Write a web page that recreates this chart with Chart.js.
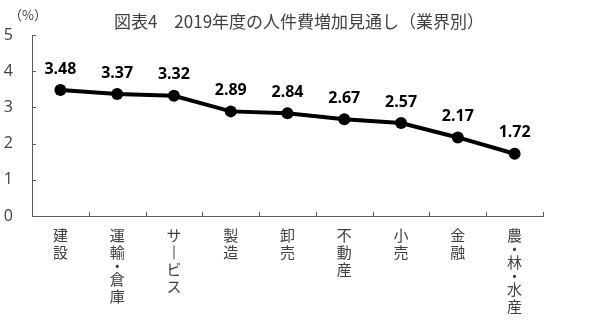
<!DOCTYPE html>
<html lang="ja">
<head>
<meta charset="utf-8">
<title>図表4 2019年度の人件費増加見通し（業界別）</title>
<script src="https://cdn.jsdelivr.net/npm/chart.js@4.4.1/dist/chart.umd.min.js"></script>
<style>
    html, body { margin: 0; padding: 0; background: #fff; }
    #wrap { width: 600px; height: 324px; position: relative; }
</style>
</head>
<body>
<div id="wrap"><canvas id="chart"></canvas></div>
<script>
// data
const categories = ['建設', '運輸・倉庫', 'サ｜ビス', '製造', '卸売', '不動産', '小売', '金融', '農・林・水産'];
const values = [3.48, 3.37, 3.32, 2.89, 2.84, 2.67, 2.57, 2.17, 1.72];
const yTicks = [0, 1, 2, 3, 4, 5];

const TITLE = '図表4　2019年度の人件費増加見通し（業界別）';
const TEXT = '#404040';
const AXIS = '#595959';
const CJK = '"Noto Sans CJK JP", "Noto Sans", sans-serif';

/**
 * Extra drawing: title, inner tick marks, vertical category labels,
 * value labels above the points and the (%) unit.
 */
const decorations = {
    id: 'decorations',
    afterDraw(chart) {
        const { ctx, chartArea } = chart;
        const x = chart.scales.x;
        const y = chart.scales.y;
        ctx.save();

        // title, centred on the whole canvas
        ctx.fillStyle = TEXT;
        ctx.font = '17px ' + CJK;
        ctx.textAlign = 'center';
        ctx.textBaseline = 'middle';
        ctx.fillText(TITLE, 299, 22);

        // tick marks pointing into the plot
        ctx.strokeStyle = AXIS;
        ctx.lineWidth = 1;
        ctx.beginPath();
        yTicks.forEach(v => {
            const py = Math.round(y.getPixelForValue(v)) + 0.5;
            ctx.moveTo(chartArea.left, py);
            ctx.lineTo(chartArea.left + 4, py);
        });
        for (let i = 0; i <= categories.length; i++) {
            const px = Math.round(x.getPixelForValue(i - 0.5)) + 0.5;
            ctx.moveTo(px, chartArea.bottom);
            ctx.lineTo(px, chartArea.bottom - 4);
        }
        ctx.stroke();

        // vertical (tategaki) category labels
        ctx.font = '15px ' + CJK;
        categories.forEach((label, i) => {
            const px = x.getPixelForValue(i);
            let py = chartArea.bottom + 19.5;
            const chars = Array.from(label);
            chars.forEach((ch, k) => {
                if (ch === '｜') {
                    // vertical long vowel mark
                    ctx.fillRect(Math.round(px) - 0.5, py - 7, 1, 14);
                } else {
                    ctx.fillText(ch, px, py);
                }
                const next = chars[k + 1];
                py += (ch === '・' || next === '・') ? 13.5 : 17;
            });
        });

        // value labels
        ctx.fillStyle = '#000';
        ctx.font = 'bold 16px "Noto Sans", "Open Sans", sans-serif';
        const meta = chart.getDatasetMeta(0);
        meta.data.forEach((pt, i) => {
            ctx.fillText(values[i].toFixed(2), pt.x, pt.y - 21);
        });

        // unit
        ctx.fillStyle = TEXT;
        ctx.font = '13px ' + CJK;
        ctx.textAlign = 'left';
        ctx.fillText('（%）', 9, 15);

        ctx.restore();
    }
};

new Chart(document.getElementById('chart'), {
    type: 'line',
    data: {
        labels: categories,
        datasets: [{
            data: values,
            borderColor: '#000',
            backgroundColor: '#000',
            borderWidth: 4,
            pointRadius: 6,
            pointBackgroundColor: '#000',
            pointBorderWidth: 0,
            tension: 0
        }]
    },
    options: {
        responsive: true,
        maintainAspectRatio: false,
        animation: false,
        layout: {
            padding: { left: 0, right: 57, top: 35, bottom: 0 }
        },
        plugins: {
            legend: { display: false },
            tooltip: { enabled: false },
            title: { display: false }
        },
        scales: {
            x: {
                type: 'category',
                offset: true,
                grid: { display: false, drawTicks: false },
                border: { display: true, color: AXIS, width: 1 },
                ticks: { display: false },
                afterFit(scale) { scale.height = 108; }
            },
            y: {
                min: 0,
                max: 5,
                grid: { display: false, drawTicks: false },
                border: { display: true, color: AXIS, width: 1 },
                afterBuildTicks(scale) {
                    scale.ticks = yTicks.map(v => ({ value: v }));
                },
                ticks: {
                    color: TEXT,
                    font: { family: '"Open Sans", "Noto Sans", sans-serif', size: 16 },
                    padding: 19
                },
                afterFit(scale) { scale.width = 32; }
            }
        }
    },
    plugins: [decorations]
});
</script>
</body>
</html>
